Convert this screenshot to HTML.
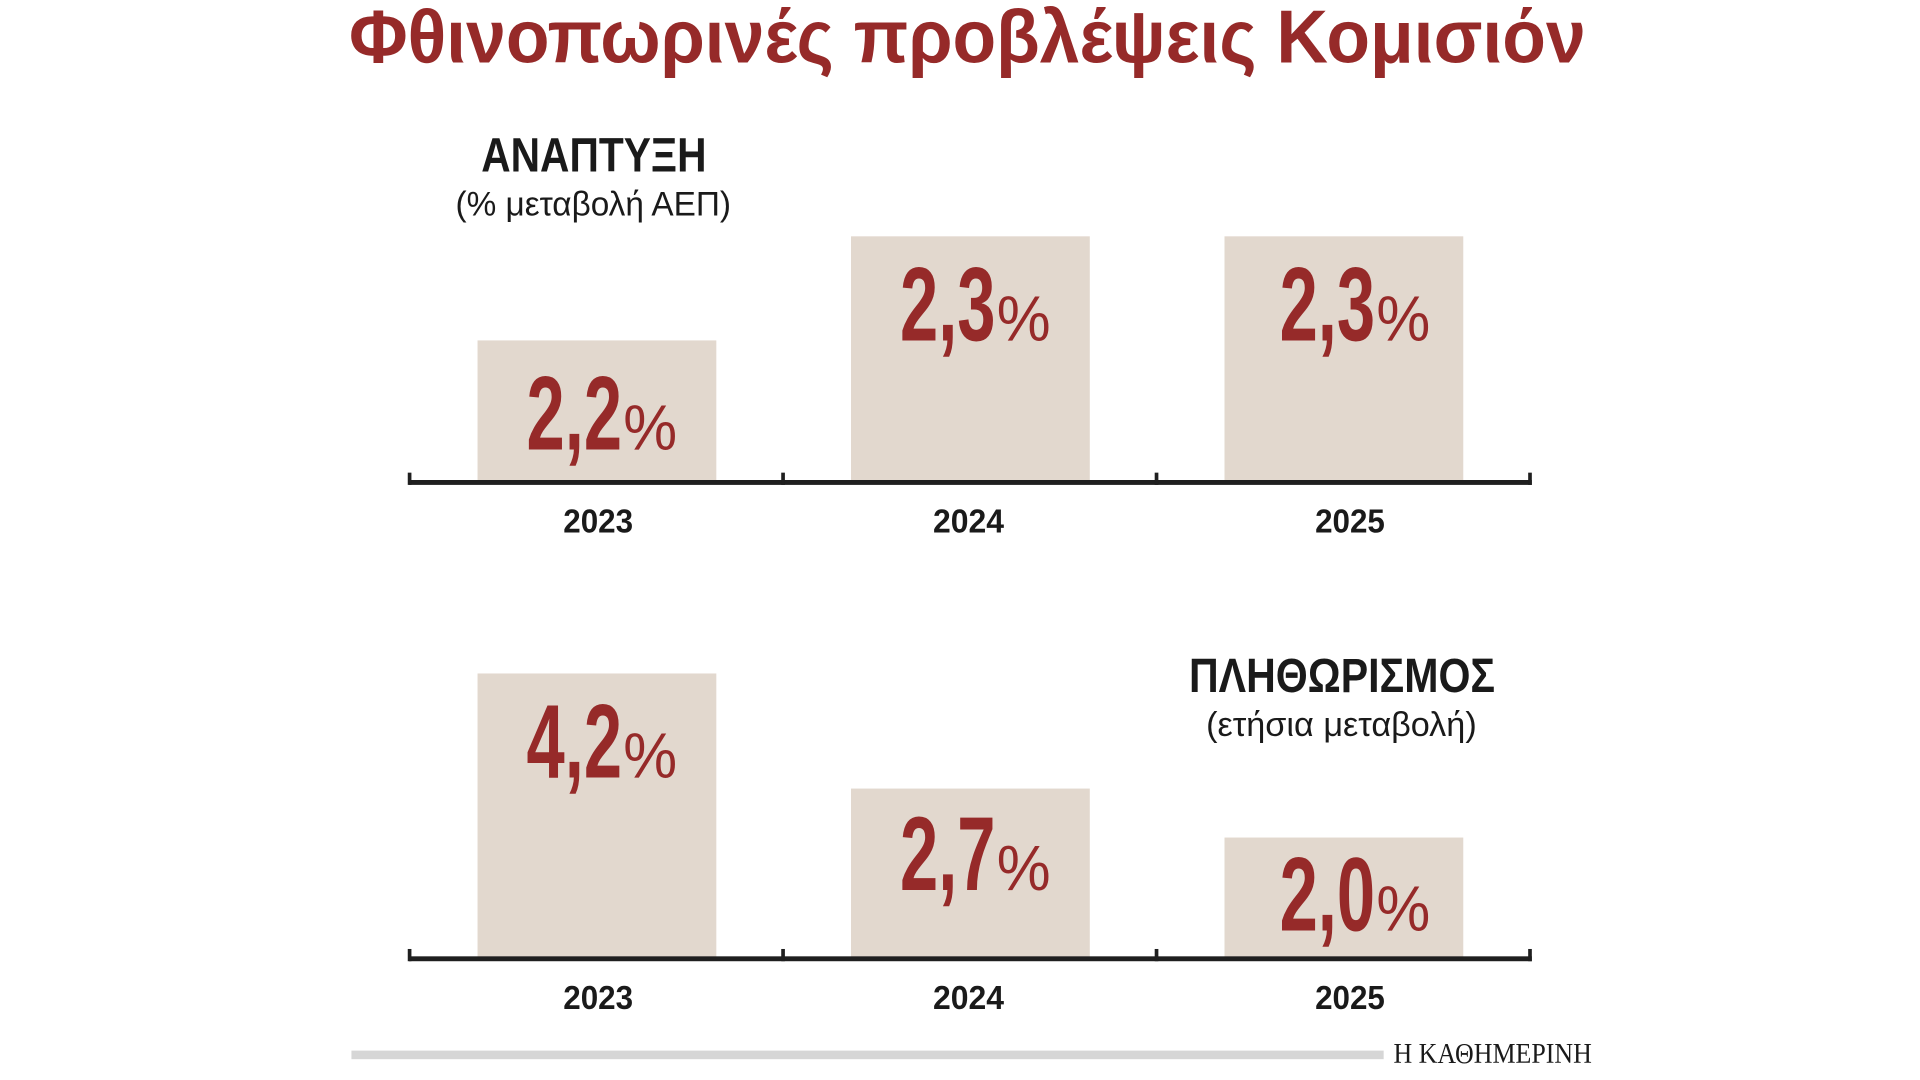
<!DOCTYPE html>
<html><head><meta charset="utf-8"><style>
html,body{margin:0;padding:0;background:#fff;width:1920px;height:1080px;overflow:hidden}
svg{display:block}
.n{font-family:"Liberation Sans Narrow","Liberation Sans",sans-serif}
</style></head><body>
<svg width="1920" height="1080" viewBox="0 0 1568 882" xmlns="http://www.w3.org/2000/svg">
<g class="n">
<text x="285" y="51" font-size="61" font-weight="bold" fill="#962a29" textLength="1010" lengthAdjust="spacingAndGlyphs">Φθινοπωρινές προβλέψεις Κομισιόν</text>

<text x="393" y="140" font-size="39" font-weight="bold" fill="#1a1a1a" textLength="184" lengthAdjust="spacingAndGlyphs" font-family="Liberation Sans,sans-serif">ΑΝΑΠΤΥΞΗ</text>
<text x="372" y="176" font-size="28" fill="#1a1a1a" textLength="225" lengthAdjust="spacingAndGlyphs">(% μεταβολή ΑΕΠ)</text>

<rect x="390" y="278" width="195" height="116" fill="#e2d8ce"/>
<rect x="695" y="193" width="195" height="201" fill="#e2d8ce"/>
<rect x="1000" y="193" width="195" height="201" fill="#e2d8ce"/>
<rect x="334" y="392" width="917" height="4" fill="#1f1f1f"/>
<rect x="333" y="386" width="3" height="10" fill="#1f1f1f"/>
<rect x="638" y="386" width="3" height="10" fill="#1f1f1f"/>
<rect x="943" y="386" width="3" height="10" fill="#1f1f1f"/>
<rect x="1248" y="386" width="3" height="10" fill="#1f1f1f"/>
<g font-size="27" font-weight="bold" fill="#1a1a1a">
<text x="460" y="435" textLength="57" lengthAdjust="spacingAndGlyphs">2023</text>
<text x="762" y="435" textLength="58" lengthAdjust="spacingAndGlyphs">2024</text>
<text x="1074" y="435" textLength="57" lengthAdjust="spacingAndGlyphs">2025</text>
</g>
<g fill="#962a29">
<text x="430" y="367" font-size="86" font-weight="bold" textLength="78" lengthAdjust="spacingAndGlyphs">2,2</text>
<text x="509" y="367" font-size="52" textLength="44" lengthAdjust="spacingAndGlyphs">%</text>
<text x="735" y="278" font-size="86" font-weight="bold" textLength="78" lengthAdjust="spacingAndGlyphs">2,3</text>
<text x="814" y="278" font-size="52" textLength="44" lengthAdjust="spacingAndGlyphs">%</text>
<text x="1045" y="278" font-size="86" font-weight="bold" textLength="78" lengthAdjust="spacingAndGlyphs">2,3</text>
<text x="1124" y="278" font-size="52" textLength="44" lengthAdjust="spacingAndGlyphs">%</text>
</g>
</g>

<rect x="390" y="550" width="195" height="233" fill="#e2d8ce"/>
<rect x="695" y="644" width="195" height="139" fill="#e2d8ce"/>
<rect x="1000" y="684" width="195" height="99" fill="#e2d8ce"/>
<g class="n" fill="#962a29">
<text x="430" y="635" font-size="86" font-weight="bold" textLength="78" lengthAdjust="spacingAndGlyphs">4,2</text>
<text x="509" y="635" font-size="52" textLength="44" lengthAdjust="spacingAndGlyphs">%</text>
<text x="735" y="727" font-size="86" font-weight="bold" textLength="78" lengthAdjust="spacingAndGlyphs">2,7</text>
<text x="814" y="727" font-size="52" textLength="44" lengthAdjust="spacingAndGlyphs">%</text>
<text x="1045" y="760" font-size="86" font-weight="bold" textLength="78" lengthAdjust="spacingAndGlyphs">2,0</text>
<text x="1124" y="760" font-size="52" textLength="44" lengthAdjust="spacingAndGlyphs">%</text>
</g>
<rect x="334" y="781" width="917" height="4" fill="#1f1f1f"/>
<rect x="333" y="775" width="3" height="10" fill="#1f1f1f"/>
<rect x="638" y="775" width="3" height="10" fill="#1f1f1f"/>
<rect x="943" y="775" width="3" height="10" fill="#1f1f1f"/>
<rect x="1248" y="775" width="3" height="10" fill="#1f1f1f"/>
<g class="n" font-size="27" font-weight="bold" fill="#1a1a1a">
<text x="460" y="824" textLength="57" lengthAdjust="spacingAndGlyphs">2023</text>
<text x="762" y="824" textLength="58" lengthAdjust="spacingAndGlyphs">2024</text>
<text x="1074" y="824" textLength="57" lengthAdjust="spacingAndGlyphs">2025</text>
</g>
<text x="971" y="565" font-size="39" font-weight="bold" fill="#1a1a1a" textLength="250" lengthAdjust="spacingAndGlyphs" font-family="Liberation Sans,sans-serif">ΠΛΗΘΩΡΙΣΜΟΣ</text>
<text class="n" x="985" y="601" font-size="28" fill="#1a1a1a" textLength="221" lengthAdjust="spacingAndGlyphs">(ετήσια μεταβολή)</text>

<rect x="287" y="858" width="843" height="7" fill="#d6d6d6"/>
<text x="1138" y="868" font-size="23" fill="#1a1a1a" font-family="Liberation Serif,serif" textLength="162" lengthAdjust="spacingAndGlyphs">Η ΚΑΘΗΜΕΡΙΝΗ</text>
</svg>
</body></html>
